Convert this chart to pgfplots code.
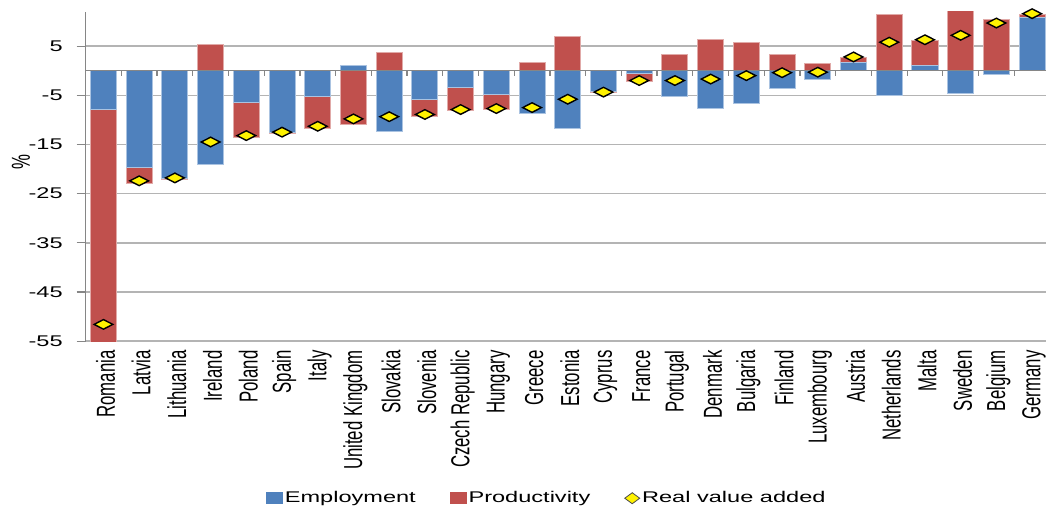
\documentclass[border=0pt]{standalone}
\usepackage{pgfplots}
\pgfplotsset{compat=1.18}
\usepackage{pgfplotstable}
\usepackage{fontspec}
\setmainfont{Liberation Sans}[FakeStretch=1.52]
\newfontfamily\rotfont{Liberation Sans}[FakeStretch=0.645]
\definecolor{barblue}{RGB}{79,129,189}
\definecolor{barred}{RGB}{192,80,77}
\definecolor{blueedge}{RGB}{170,195,225}
\definecolor{rededge}{RGB}{225,170,168}
\definecolor{gridgray}{RGB}{180,180,180}
\definecolor{axgray}{RGB}{134,134,134}

\pgfplotstableread{
idx emp prod va
0 -7.9 -48.0 -51.6
1 -19.7 -3.3 -22.4
2 -21.95 -0.2 -21.8
3 -19.0 5.4 -14.5
4 -6.4 -7.2 -13.2
5 -12.5 -0.2 -12.5
6 -5.2 -6.5 -11.3
7 1.1 -10.85 -9.8
8 -12.4 3.65 -9.35
9 -5.9 -3.45 -8.9
10 -3.5 -4.6 -7.9
11 -4.9 -2.9 -7.7
12 -8.8 1.6 -7.5
13 -11.7 7.0 -5.8
14 -4.15 -0.2 -4.35
15 -0.5 -1.6 -2.0
16 -5.2 3.3 -2.0
17 -7.6 6.4 -1.7
18 -6.6 5.7 -1.0
19 -3.7 3.3 -0.4
20 -1.8 1.4 -0.3
21 1.6 1.0 2.8
22 -4.95 11.4 5.8
23 1.1 5.0 6.3
24 -4.55 12.2 7.2
25 -0.75 10.5 9.7
26 10.8 0.6 11.6
}\datatable

\newcommand{\mainsize}{\fontsize{7.75pt}{9pt}\selectfont}
\newcommand{\rotsize}{\rotfont\fontsize{13pt}{13pt}\selectfont}

\begin{document}
\begin{tikzpicture}
\begin{axis}[
  name=ax, at={(0,0)}, anchor=south west,
  scale only axis, width=480.4pt, height=164.7pt,
  xmin=-0.5, xmax=26.4, ymin=-55, ymax=12,
  axis y line*=left, axis x line*=bottom,
  y axis line style={axgray, line width=0.75pt},
  x axis line style={gridgray, line width=0.75pt},
  xtick={0,...,26},
  xticklabels={Romania,Latvia,Lithuania,Ireland,Poland,Spain,Italy,United Kingdom,Slovakia,Slovenia,Czech Republic,Hungary,Greece,Estonia,Cyprus,France,Portugal,Denmark,Bulgaria,Finland,Luxembourg,Austria,Netherlands,Malta,Sweden,Belgium,Germany},
  x tick style={draw=none},
  xticklabel style={rotate=90, anchor=east, inner sep=0pt, font=\rotsize, yshift=-1pt},
  ytick={-55,-45,...,5},
  ymajorgrids, grid style={gridgray, line width=0.75pt},
  tick align=outside, major tick length=4.5pt,
  y tick style={axgray, line width=0.6pt},
  yticklabel style={font=\mainsize, inner sep=0pt, xshift=-6.75pt},
  /pgf/number format/assume math mode=true,
  ylabel={\rotsize \%},
  ylabel style={at={(axis description cs:-0.0672,0.543)}, anchor=center},
  legend style={at={(0.48,-0.477)}, anchor=center, draw=none, fill=none,
    legend columns=3, font=\mainsize, inner sep=0pt,
    nodes={inner sep=1pt},
    /tikz/every even column/.append style={column sep=16pt}},
]
\addlegendimage{legend image code/.code={\fill[barblue] (0pt,-2.75pt) rectangle (8pt,2.75pt);}}
\addlegendentry{Employment}
\addlegendimage{legend image code/.code={\fill[barred] (0pt,-2.75pt) rectangle (8pt,2.75pt);}}
\addlegendentry{Productivity}
\addlegendimage{legend image code/.code={\draw[fill=yellow, draw=black!70, line width=0.4pt] (3.75pt,2.75pt) -- (7.5pt,0pt) -- (3.75pt,-2.75pt) -- (0pt,0pt) -- cycle;}}
\addlegendentry{Real value added}

% productivity (red): stacked on employment when of the same sign, else from zero
\addplot[ybar, bar width=0.73, bar shift=0pt, fill=barred, draw=rededge, line width=0.5pt, forget plot]
  table[x=idx, y expr={(\thisrow{emp}*\thisrow{prod}>0) ? (\thisrow{emp}+\thisrow{prod}) : \thisrow{prod}}]{\datatable};
% employment (blue)
\addplot[ybar, bar width=0.73, bar shift=0pt, fill=barblue, draw=blueedge, line width=0.5pt, forget plot]
  table[x=idx, y=emp]{\datatable};
% zero line with category ticks
\draw[axgray, line width=0.6pt] (axis cs:-0.5,0) -- (axis cs:26.5,0);
\pgfplotsinvokeforeach{0,...,25}{\draw[axgray, line width=0.6pt] (axis cs:#1.5,0) -- ++(0pt,-2.5pt);}
% real value added
\addplot[only marks, mark=diamond*, mark size=2.4pt,
  mark options={fill=yellow, draw=black, line width=0.7pt, xscale=2.6}, forget plot]
  table[x=idx, y=va]{\datatable};
\end{axis}
\pgfresetboundingbox
\path[use as bounding box] (-42.8pt,-85pt) rectangle (480.2pt,170.55pt);
\end{tikzpicture}
\end{document}
